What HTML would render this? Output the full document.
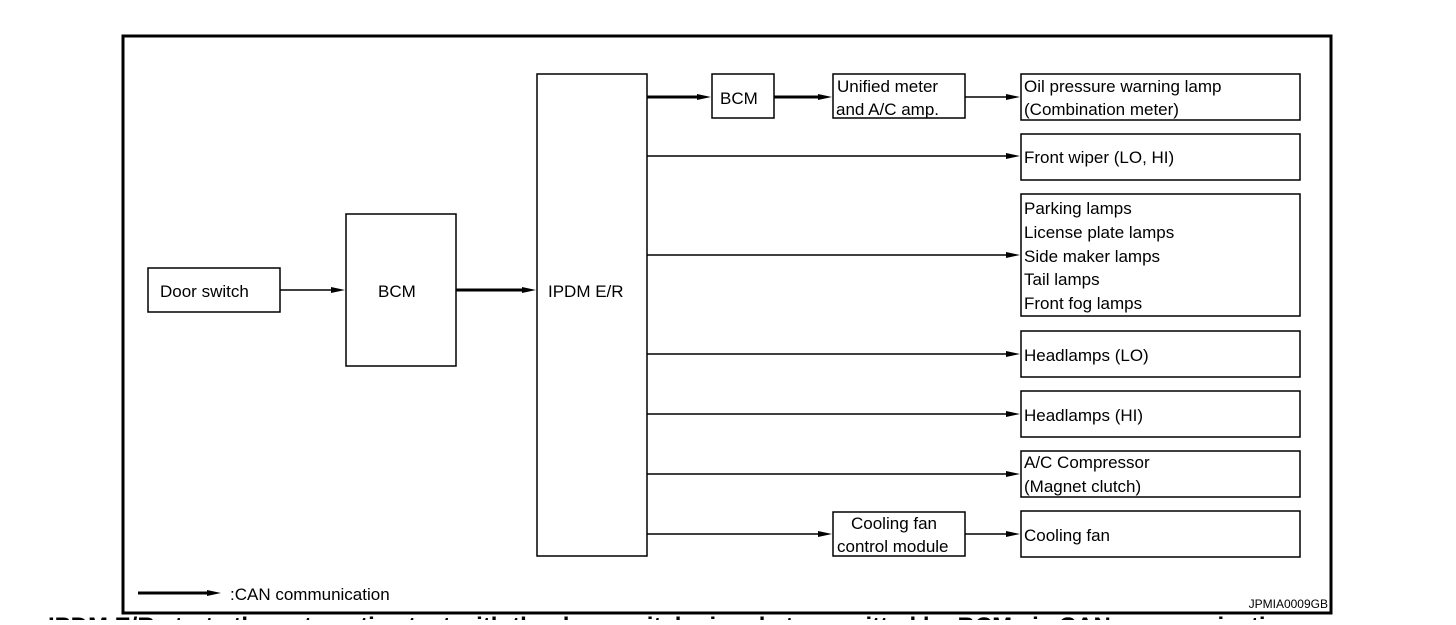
<!DOCTYPE html><html><head><style>body{margin:0;background:#fff;overflow:hidden}svg text{font-family:"Liberation Sans",sans-serif;font-size:17px;fill:#000}</style></head><body>
<svg width="1456" height="620" xmlns="http://www.w3.org/2000/svg">
<defs><marker id="a" markerWidth="14" markerHeight="8" refX="1" refY="4" orient="auto" markerUnits="userSpaceOnUse"><path d="M0,1 L14,4 L0,7z" fill="#000"/></marker></defs>
<rect x="123" y="36" width="1208" height="577" fill="none" stroke="#000" stroke-width="3"/>
<g fill="#fff" stroke="#000" stroke-width="1.5">
<rect x="148" y="268" width="132" height="44"/>
<rect x="346" y="214" width="110" height="152"/>
<rect x="537" y="74" width="110" height="482"/>
<rect x="712" y="74" width="62" height="44"/>
<rect x="833" y="74" width="132" height="44"/>
<rect x="833" y="512" width="132" height="44"/>
<rect x="1021" y="74" width="279" height="46"/>
<rect x="1021" y="134" width="279" height="46"/>
<rect x="1021" y="194" width="279" height="122"/>
<rect x="1021" y="331" width="279" height="46"/>
<rect x="1021" y="391" width="279" height="46"/>
<rect x="1021" y="451" width="279" height="46"/>
<rect x="1021" y="511" width="279" height="46"/>
</g>
<g stroke="#000" fill="none">
<line x1="280" y1="290" x2="332" y2="290" stroke-width="1.5" marker-end="url(#a)"/>
<line x1="456" y1="290" x2="523" y2="290" stroke-width="3" marker-end="url(#a)"/>
<line x1="647" y1="97" x2="698" y2="97" stroke-width="3" marker-end="url(#a)"/>
<line x1="774" y1="97" x2="819" y2="97" stroke-width="3" marker-end="url(#a)"/>
<line x1="965" y1="97" x2="1007" y2="97" stroke-width="1.5" marker-end="url(#a)"/>
<line x1="647" y1="156" x2="1007" y2="156" stroke-width="1.5" marker-end="url(#a)"/>
<line x1="647" y1="255" x2="1007" y2="255" stroke-width="1.5" marker-end="url(#a)"/>
<line x1="647" y1="354" x2="1007" y2="354" stroke-width="1.5" marker-end="url(#a)"/>
<line x1="647" y1="414" x2="1007" y2="414" stroke-width="1.5" marker-end="url(#a)"/>
<line x1="647" y1="474" x2="1007" y2="474" stroke-width="1.5" marker-end="url(#a)"/>
<line x1="647" y1="534" x2="819" y2="534" stroke-width="1.5" marker-end="url(#a)"/>
<line x1="965" y1="534" x2="1007" y2="534" stroke-width="1.5" marker-end="url(#a)"/>
<line x1="138" y1="593" x2="208" y2="593" stroke-width="3" marker-end="url(#a)"/>
</g>
<text x="160" y="297">Door switch</text>
<text x="378" y="297">BCM</text>
<text x="548" y="297">IPDM E/R</text>
<text x="720" y="104">BCM</text>
<text x="837" y="92">Unified meter</text>
<text x="836" y="115">and A/C amp.</text>
<text x="851" y="529">Cooling fan</text>
<text x="837" y="552">control module</text>
<text x="1024" y="92">Oil pressure warning lamp</text>
<text x="1024" y="115">(Combination meter)</text>
<text x="1024" y="163">Front wiper (LO, HI)</text>
<text x="1024" y="214">Parking lamps</text>
<text x="1024" y="238">License plate lamps</text>
<text x="1024" y="262">Side maker lamps</text>
<text x="1024" y="285">Tail lamps</text>
<text x="1024" y="309">Front fog lamps</text>
<text x="1024" y="361">Headlamps (LO)</text>
<text x="1024" y="421">Headlamps (HI)</text>
<text x="1024" y="468">A/C Compressor</text>
<text x="1024" y="492">(Magnet clutch)</text>
<text x="1024" y="541">Cooling fan</text>
<text x="230" y="600">:CAN communication</text>
<text x="1328" y="608" text-anchor="end" style="font-size:12px">JPMIA0009GB</text>
<text x="48" y="634" style="font-size:24px;font-weight:bold">IPDM E/R starts the auto active test with the door switch signals transmitted by BCM via CAN communication.</text>
</svg></body></html>
